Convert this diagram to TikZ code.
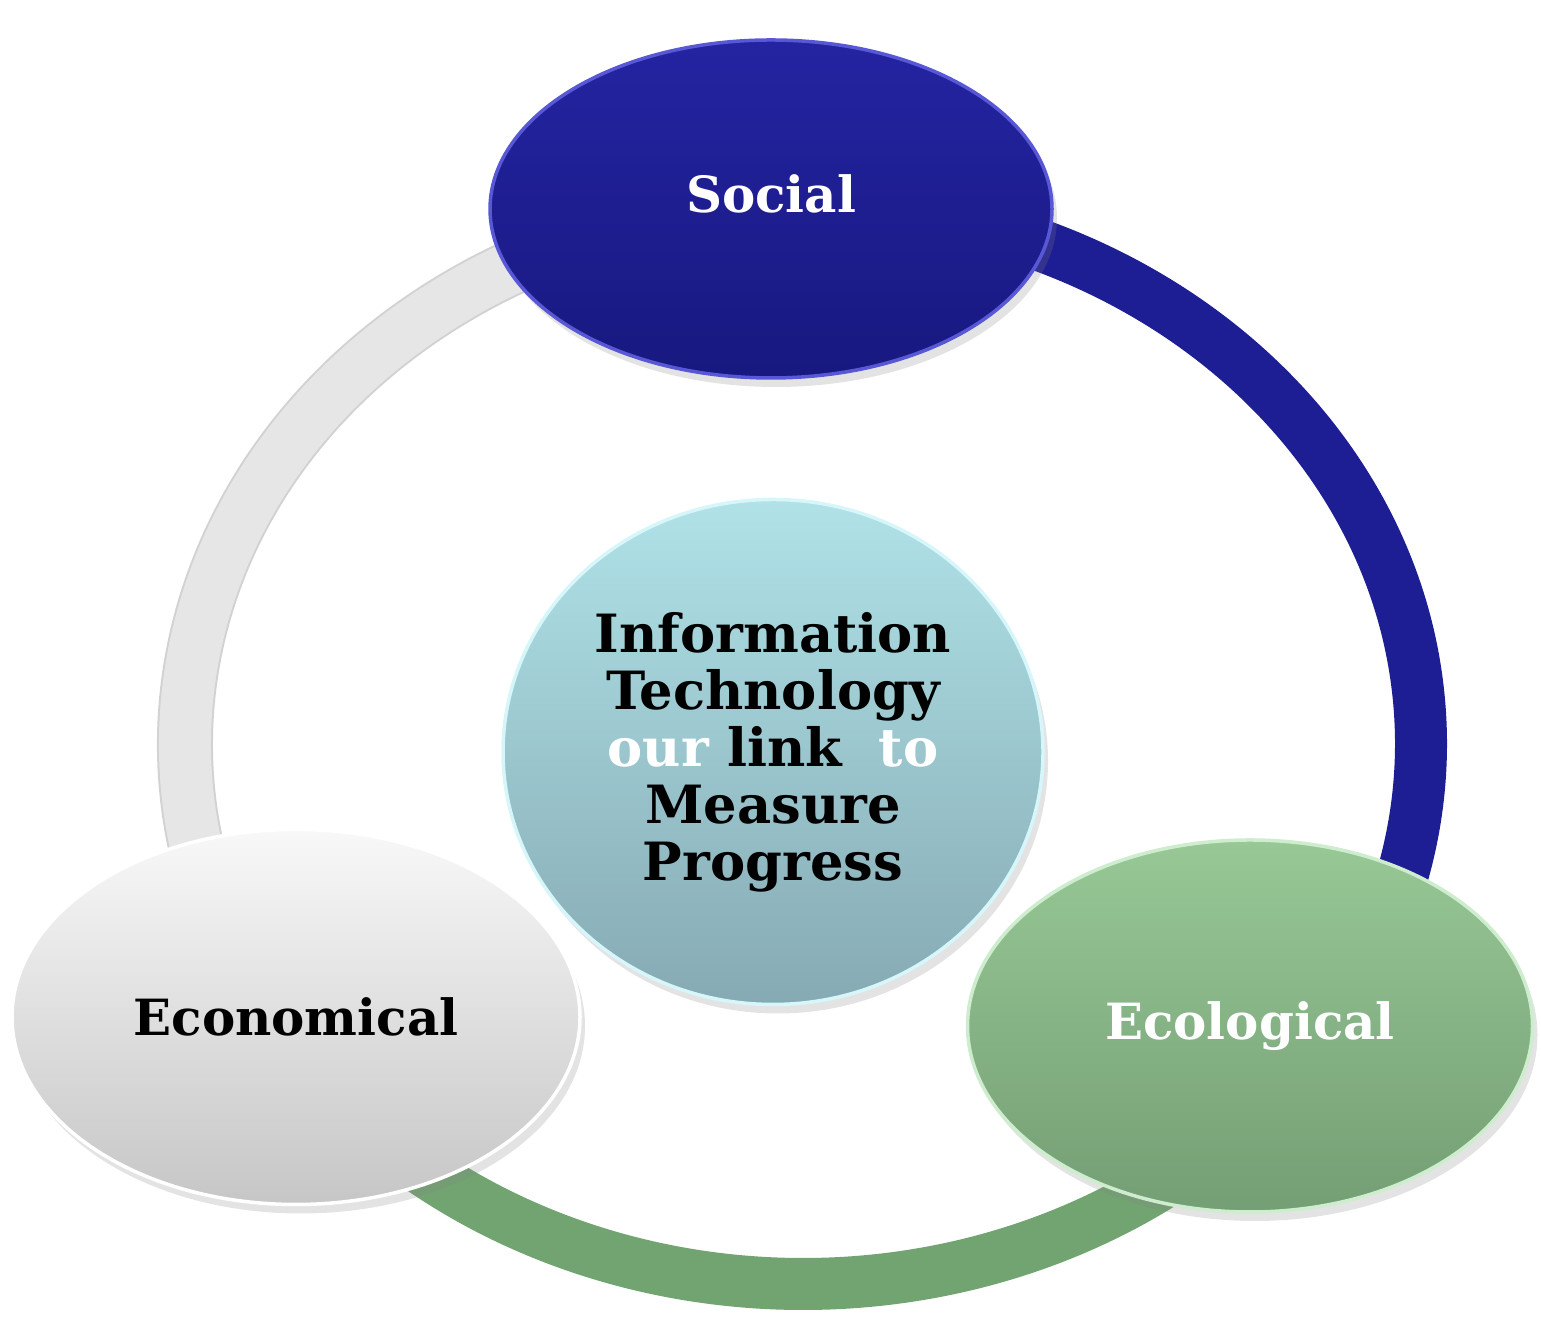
\documentclass[tikz,border=0pt]{standalone}
\usepackage{fontspec}
\setmainfont{DejaVu Serif}
\usetikzlibrary{positioning, shapes.geometric, shadows, backgrounds}

\definecolor{soctop}{RGB}{36,36,162}
\definecolor{socbot}{RGB}{24,24,128}
\definecolor{socrim}{RGB}{88,88,214}
\definecolor{socring}{RGB}{30,30,148}
\definecolor{ecotop}{RGB}{152,200,150}
\definecolor{ecobot}{RGB}{116,158,116}
\definecolor{ecorim}{RGB}{206,236,206}
\definecolor{ecoring}{RGB}{114,164,114}
\definecolor{ecntop}{RGB}{248,248,248}
\definecolor{ecnbot}{RGB}{198,198,198}
\definecolor{ecnring}{RGB}{230,230,230}
\definecolor{ittop}{RGB}{176,226,232}
\definecolor{itbot}{RGB}{134,170,180}
\definecolor{itrim}{RGB}{214,246,250}

\begin{document}
\begin{tikzpicture}[x=0.1mm, y=0.1mm, node distance=54.3mm]
\tikzstyle{every node}=[font=\bfseries\fontsize{14.2pt}{16.2pt}\selectfont, align=center, inner sep=0pt]
\tikzstyle{bubble}=[ellipse, line width=0.35mm, drop shadow={opacity=0.22, shadow xshift=0.5mm, shadow yshift=-0.9mm}]
\tikzstyle{band}=[line width=5.2mm]

\useasboundingbox (0,0) rectangle (1541,1319);
\coordinate (ring) at (803,575);

\node[bubble, minimum width=54mm, minimum height=50.5mm, top color=ittop, bottom color=itbot, draw=itrim,
      font=\bfseries\fontsize{15pt}{16.2pt}\selectfont] (IT) at (773,567)
      {Information\\Technology\\\textcolor{white}{our} link~ \textcolor{white}{to}\\Measure\\Progress};
\node[bubble, minimum width=56.2mm, minimum height=33.8mm, top color=soctop, bottom color=socbot, draw=socrim,
      text=white, text depth=3mm, above of=IT, xshift=-0.2mm] (S) {Social};
\node[bubble, minimum width=56.5mm, minimum height=37.2mm, top color=ecotop, bottom color=ecobot, draw=ecorim,
      text=white, on grid, below right=27.4mm and 47.7mm of IT] (Eco) {Ecological};
\node[bubble, minimum width=56.8mm, minimum height=37.5mm, top color=ecntop, bottom color=ecnbot, draw=white,
      on grid, below left=26.5mm and 47.7mm of IT] (Ecn) {Economical};

\begin{scope}[on background layer]
\draw[band, draw=gray!35, line width=5.6mm] ([shift={(215:618 and 540)}]ring) arc[start angle=215, end angle=93, x radius=618, y radius=540];
\draw[band, draw=ecnring] ([shift={(215:618 and 540)}]ring) arc[start angle=215, end angle=93, x radius=618, y radius=540];
\draw[band, draw=socring] ([shift={(93:618 and 540)}]ring) arc[start angle=93, end angle=-36, x radius=618, y radius=540];
\draw[band, draw=ecoring] ([shift={(-36:618 and 540)}]ring) arc[start angle=-36, end angle=-145, x radius=618, y radius=540];
\end{scope}
\end{tikzpicture}
\end{document}
